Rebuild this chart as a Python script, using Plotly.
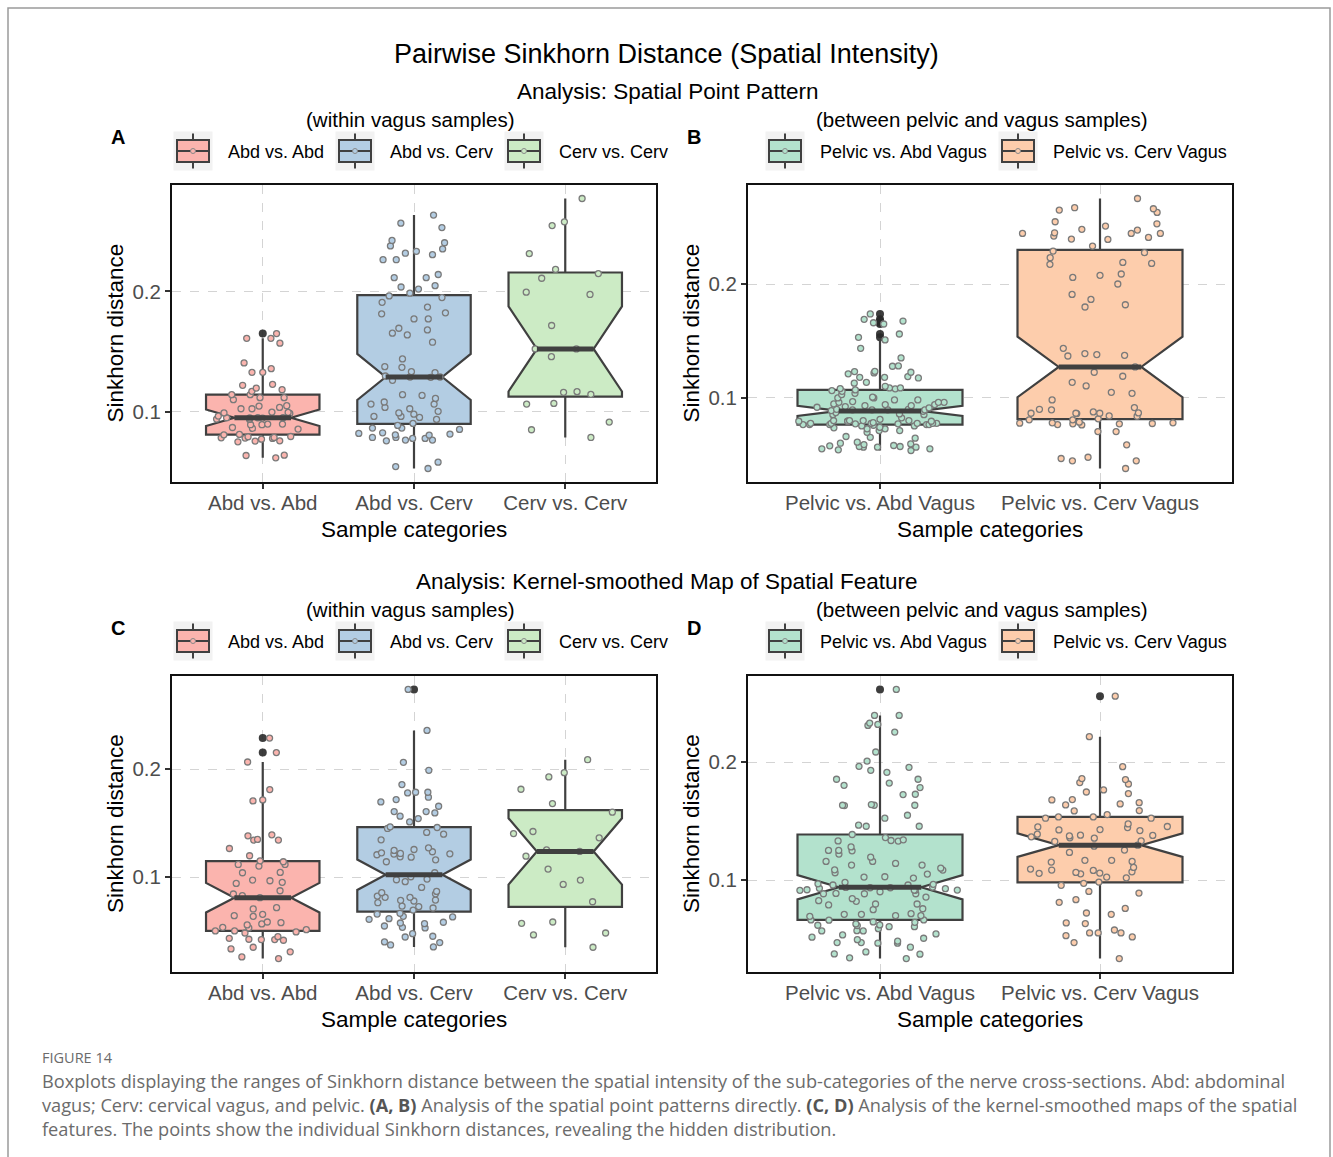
import numpy as np
import plotly.graph_objects as go

W, H = 1333, 1157

# ---------------- data: pairwise Sinkhorn distances ----------------
cats_within = ["Abd vs. Abd", "Abd vs. Cerv", "Cerv vs. Cerv"]
cats_between = ["Pelvic vs. Abd Vagus", "Pelvic vs. Cerv Vagus"]

# Spatial point pattern, within vagus samples
spp_abd_abd = [0.165, 0.161, 0.161, 0.157, 0.1406, 0.1328, 0.1328, 0.1358, 0.1228, 0.122,
               0.117, 0.1197, 0.1183, 0.1142, 0.1142, 0.1117, 0.1117, 0.110, 0.1036, 0.1025,
               0.105, 0.1047, 0.1025, 0.0997, 0.0986, 0.0994, 0.099, 0.0939, 0.095, 0.095,
               0.0947, 0.095, 0.0948, 0.0936, 0.0964, 0.0892, 0.0856, 0.0869, 0.0897, 0.0861,
               0.0897, 0.0892, 0.0808, 0.0811, 0.0778, 0.0792, 0.075, 0.0781, 0.0758, 0.0783,
               0.0756, 0.0794, 0.0786, 0.0772, 0.0636, 0.0617, 0.0639]
spp_abd_cerv = [0.2635, 0.2568, 0.2531, 0.2424, 0.2405, 0.2379, 0.2354, 0.2334, 0.2306, 0.2318,
                0.2264, 0.2264, 0.2141, 0.2115, 0.2115, 0.2048, 0.202, 0.2037, 0.1986, 0.1963,
                0.1949, 0.191, 0.187, 0.1822, 0.1814, 0.1772, 0.1772, 0.1694, 0.168, 0.1653,
                0.1639, 0.1578, 0.1439, 0.1375, 0.1369, 0.1333, 0.1325, 0.1297, 0.1289, 0.1286,
                0.1289, 0.1261, 0.1142, 0.1111, 0.1136, 0.1081, 0.1064, 0.1064, 0.1036, 0.1025,
                0.1003, 0.098, 0.099, 0.0961, 0.0961, 0.0953, 0.0936, 0.0903, 0.0886, 0.0864,
                0.0864, 0.0853, 0.0825, 0.082, 0.0814, 0.0806, 0.0808, 0.0786, 0.0786, 0.0778,
                0.0778, 0.0764, 0.0764, 0.0758, 0.0581, 0.0544, 0.0528]
spp_cerv_cerv = [0.2773, 0.2579, 0.2548, 0.2315, 0.2183, 0.2149, 0.211, 0.1994, 0.1975, 0.1717,
                 0.1522, 0.1522, 0.1458, 0.1167, 0.1144, 0.1161, 0.1064, 0.1069, 0.0914, 0.085,
                 0.0786]

# Spatial point pattern, between pelvic and vagus samples
spp_pelvic_abd = [0.1737, 0.169, 0.1675, 0.166, 0.1649, 0.1561, 0.1532, 0.1509, 0.1435, 0.1351,
                  0.1281, 0.1278, 0.1231, 0.1233, 0.1211, 0.1225, 0.1219, 0.1181, 0.1175, 0.1181,
                  0.1187, 0.1137, 0.1129, 0.1102, 0.1088, 0.1088, 0.1082, 0.1064, 0.107, 0.1058,
                  0.108, 0.1029, 0.0982, 0.1, 0.104, 0.1, 0.0982, 0.1006, 0.0968, 0.0924,
                  0.0947, 0.0932, 0.0941, 0.0961, 0.0918, 0.0961, 0.0941, 0.0932, 0.0961, 0.0895,
                  0.09, 0.0882, 0.0871, 0.0895, 0.09, 0.0895, 0.0912, 0.0889, 0.0895, 0.0853,
                  0.0859, 0.0853, 0.0825, 0.0766, 0.0795, 0.0777, 0.0801, 0.0742, 0.076, 0.0766,
                  0.0801, 0.0777, 0.0754, 0.0783, 0.0812, 0.0777, 0.0795, 0.0801, 0.0777, 0.0766,
                  0.0737, 0.0795, 0.0772, 0.0801, 0.0766, 0.0777, 0.0754, 0.0772, 0.0777, 0.0795,
                  0.0766, 0.0698, 0.0728, 0.0713, 0.0713, 0.0728, 0.0646, 0.0661, 0.0654, 0.0582,
                  0.0567, 0.0579, 0.0567, 0.0602, 0.0573, 0.0567, 0.0596, 0.059, 0.0573, 0.0553,
                  0.0544, 0.0538, 0.0553, 0.0611]
spp_pelvic_cerv = [0.2751, 0.267, 0.2649, 0.2661, 0.2629, 0.2547, 0.2509, 0.2529, 0.2474, 0.2444,
                   0.2444, 0.2444, 0.248, 0.245, 0.2421, 0.2392, 0.2409, 0.2395, 0.2333, 0.2289,
                   0.2275, 0.2231, 0.2181, 0.2173, 0.219, 0.2088, 0.2058, 0.2076, 0.2, 0.1909,
                   0.1818, 0.1798, 0.1865, 0.1368, 0.1435, 0.138, 0.1374, 0.1389, 0.1272, 0.1225,
                   0.1137, 0.119, 0.1105, 0.1049, 0.104, 0.0982, 0.0865, 0.0877, 0.0865, 0.0842,
                   0.09, 0.0865, 0.0839, 0.0895, 0.0868, 0.0862, 0.0915, 0.0781, 0.0816, 0.0772,
                   0.0807, 0.0766, 0.0778, 0.0787, 0.0763, 0.0775, 0.0807, 0.0772, 0.0781, 0.0704,
                   0.0704, 0.0588, 0.0468, 0.0447, 0.0479, 0.0447, 0.038]

# Kernel-smoothed map, within vagus samples
ksm_abd_abd = [0.229, 0.2155, 0.2068, 0.1812, 0.1707, 0.1716, 0.1383, 0.1392, 0.1343, 0.1343,
               0.1349, 0.1265, 0.1198, 0.1151, 0.1142, 0.1117, 0.1102, 0.1117, 0.104, 0.1043,
               0.0966, 0.0951, 0.0972, 0.0941, 0.0873, 0.0843, 0.0827, 0.0809, 0.0704, 0.0716,
               0.0642, 0.0654, 0.0636, 0.0565, 0.0583, 0.0577, 0.0556, 0.0534, 0.0512, 0.0481,
               0.05, 0.0528, 0.0491, 0.05, 0.042, 0.0432, 0.0414, 0.0423, 0.0447, 0.042,
               0.0333, 0.0349, 0.0306, 0.0259, 0.0244]
ksm_abd_cerv = [0.2741, 0.2361, 0.2065, 0.1991, 0.1858, 0.1787, 0.1781, 0.1787, 0.1719, 0.1741,
                0.1697, 0.1657, 0.1608, 0.1608, 0.1595, 0.1565, 0.1543, 0.1512, 0.146, 0.1451,
                0.1466, 0.1414, 0.1398, 0.1346, 0.1256, 0.1271, 0.1219, 0.1235, 0.1213, 0.1225,
                0.1247, 0.1216, 0.1188, 0.1207, 0.1185, 0.116, 0.1142, 0.0975, 0.1003, 0.0981,
                0.0957, 0.104, 0.0904, 0.0855, 0.0812, 0.0784, 0.0824, 0.0867, 0.0778, 0.0812,
                0.0787, 0.0845, 0.0762, 0.0694, 0.0725, 0.0713, 0.0731, 0.063, 0.0657, 0.0636,
                0.0664, 0.0614, 0.0528, 0.0574, 0.0546, 0.0608, 0.0534, 0.0581, 0.0568, 0.0451,
                0.0444, 0.0475, 0.0398, 0.037, 0.0352, 0.0392]
ksm_cerv_cerv = [0.2089, 0.1969, 0.1929, 0.1815, 0.1682, 0.1602, 0.1423, 0.1404, 0.1364, 0.1253,
                 0.1238, 0.1194, 0.1074, 0.0972, 0.0932, 0.0771, 0.0571, 0.0583, 0.0463, 0.0481,
                 0.0349]

# Kernel-smoothed map, between pelvic and vagus samples
ksm_pelvic_abd = [0.2615, 0.2395, 0.2395, 0.231, 0.233, 0.2319, 0.2254, 0.2085, 0.2008, 0.1964,
                  0.1955, 0.193, 0.1913, 0.1854, 0.1822, 0.1854, 0.1784, 0.1803, 0.1724, 0.1727,
                  0.1634, 0.1634, 0.1631, 0.164, 0.1634, 0.1549, 0.1524, 0.1456, 0.1465, 0.1456,
                  0.1386, 0.136, 0.133, 0.1332, 0.1341, 0.1335, 0.1281, 0.1248, 0.1251, 0.1251,
                  0.122, 0.1194, 0.1158, 0.1158, 0.1127, 0.1141, 0.1127, 0.1085, 0.1101, 0.1087,
                  0.1062, 0.1025, 0.1051, 0.1028, 0.1017, 0.0981, 0.0958, 0.0968, 0.0964, 0.0915,
                  0.0884, 0.0901, 0.0927, 0.0913, 0.0884, 0.0918, 0.0913, 0.0935, 0.0884, 0.0935,
                  0.0915, 0.0958, 0.0856, 0.0887, 0.0938, 0.094, 0.093, 0.082, 0.0842, 0.0825,
                  0.0797, 0.0797, 0.0789, 0.0757, 0.0749, 0.071, 0.0698, 0.0715, 0.0693, 0.071,
                  0.0698, 0.0662, 0.0642, 0.066, 0.0645, 0.0662, 0.0614, 0.062, 0.0605, 0.0617,
                  0.0628, 0.0605, 0.0571, 0.0569, 0.0588, 0.0569, 0.0544, 0.0535, 0.0495, 0.0516,
                  0.0507, 0.0465, 0.047, 0.047, 0.0482, 0.0465, 0.0431, 0.0374, 0.0391, 0.0372,
                  0.0341, 0.0335]
ksm_pelvic_cerv = [0.2558, 0.2215, 0.1961, 0.1826, 0.186, 0.1851, 0.1814, 0.1733, 0.1764, 0.1746,
                   0.1679, 0.1682, 0.1645, 0.1656, 0.1637, 0.1555, 0.1535, 0.1589, 0.1524, 0.1586,
                   0.1535, 0.1524, 0.1476, 0.1445, 0.1425, 0.1454, 0.1419, 0.145, 0.1428, 0.1389,
                   0.1366, 0.1355, 0.1378, 0.1374, 0.1358, 0.138, 0.1327, 0.1332, 0.1296, 0.1287,
                   0.1254, 0.1234, 0.1152, 0.1167, 0.1158, 0.1167, 0.1057, 0.1082, 0.1065, 0.1093,
                   0.1059, 0.1085, 0.1019, 0.1025, 0.107, 0.1053, 0.1107, 0.0983, 0.0955, 0.0972,
                   0.089, 0.0904, 0.0811, 0.0834, 0.0721, 0.076, 0.071, 0.0637, 0.0631, 0.0577,
                   0.0529, 0.0552, 0.0552, 0.0518, 0.0552, 0.047, 0.0335]

colors_within = ["#FBB4AE", "#B3CDE3", "#CCEBC5"]
colors_between = ["#B3E2CD", "#FDCDAC"]

# ---------------- styling constants ----------------
FONT = "Liberation Sans, Arial, sans-serif"
BOX_LINE = "#404040"
PT_EDGE = "#7a7a7a"
BOX_W = 0.75
NOTCH = 0.25          # plotly notch indentation -> waist at half the box width


def px(x):
    return x / W


def py(y):
    return 1 - y / H


panels = [
    dict(letter="A", cats=cats_within, colors=colors_within,
         data=[spp_abd_abd, spp_abd_cerv, spp_cerv_cerv],
         left=172, right=656, top=185, bottom=482),
    dict(letter="B", cats=cats_between, colors=colors_between,
         data=[spp_pelvic_abd, spp_pelvic_cerv],
         left=748, right=1232, top=185, bottom=482),
    dict(letter="C", cats=cats_within, colors=colors_within,
         data=[ksm_abd_abd, ksm_abd_cerv, ksm_cerv_cerv],
         left=172, right=656, top=676, bottom=972),
    dict(letter="D", cats=cats_between, colors=colors_between,
         data=[ksm_pelvic_abd, ksm_pelvic_cerv],
         left=748, right=1232, top=676, bottom=972),
]

fig = go.Figure()
layout = dict(
    width=W, height=H,
    margin=dict(l=0, r=0, t=0, b=0),
    paper_bgcolor="white", plot_bgcolor="white",
    showlegend=False, boxmode="overlay",
    font=dict(family=FONT, color="black"),
)
annotations = []
shapes = []

for k, p in enumerate(panels):
    sfx = "" if k == 0 else str(k + 1)
    xa, ya = "x" + sfx, "y" + sfx
    allv = np.concatenate([np.asarray(d, float) for d in p["data"]])
    lo, hi = allv.min(), allv.max()
    pad = 0.05 * (hi - lo)
    n = len(p["cats"])

    for i, (vals, col) in enumerate(zip(p["data"], p["colors"])):
        v = np.asarray(vals, float)
        xs = [i] * len(v)
        # outliers drawn as dark dots on the box centre
        fig.add_trace(go.Box(
            x=xs, y=v, xaxis=xa, yaxis=ya, width=BOX_W, notched=True, notchwidth=NOTCH,
            boxpoints="outliers", jitter=0, pointpos=0, whiskerwidth=0,
            fillcolor="rgba(0,0,0,0)", line=dict(color="rgba(0,0,0,0)", width=0),
            marker=dict(color="rgba(40,40,40,0.9)", size=8, line=dict(width=0)),
            hoverinfo="skip"))
        # notched box plus every jittered observation
        fig.add_trace(go.Box(
            x=xs, y=v, xaxis=xa, yaxis=ya, width=BOX_W, notched=True, notchwidth=NOTCH,
            boxpoints="all", jitter=1, pointpos=0, whiskerwidth=0,
            fillcolor=col, line=dict(color=BOX_LINE, width=2.2),
            marker=dict(color=col, size=6, line=dict(color=PT_EDGE, width=1.3)),
            name=p["cats"][i]))
        # heavier median bar across the notch waist
        med = float(np.median(v))
        half = BOX_W / 2 * 0.5
        fig.add_trace(go.Scatter(
            x=[i - half, i + half], y=[med, med], xaxis=xa, yaxis=ya, mode="lines",
            line=dict(color=BOX_LINE, width=5), hoverinfo="skip"))

    layout["xaxis" + sfx] = dict(
        domain=[px(p["left"]), px(p["right"])], anchor=ya,
        range=[-0.6, n - 0.4], tickvals=list(range(n)), ticktext=p["cats"],
        showgrid=True, gridcolor="#d4d4d4", griddash="dash", gridwidth=1,
        showline=True, mirror=True, linecolor="#111111", linewidth=2,
        ticks="outside", ticklen=5, tickwidth=1.5, tickcolor="#333333",
        ticklabelstandoff=-4,
        tickfont=dict(size=20.5, color="#4d4d4d", family=FONT), zeroline=False,
    )
    layout["yaxis" + sfx] = dict(
        domain=[py(p["bottom"]), py(p["top"])], anchor=xa,
        range=[lo - pad, hi + pad], tickvals=[0.1, 0.2], ticktext=["0.1", "0.2"],
        showgrid=True, gridcolor="#d4d4d4", griddash="dash", gridwidth=1,
        showline=True, mirror=True, linecolor="#111111", linewidth=2,
        ticks="outside", ticklen=5, tickwidth=1.5, tickcolor="#333333",
        tickfont=dict(size=20.5, color="#4d4d4d", family=FONT), zeroline=False,
    )

    cx = (p["left"] + p["right"]) / 2
    # axis titles
    annotations.append(dict(text="Sample categories", x=px(cx), y=py(p["bottom"] + 47),
                            xref="paper", yref="paper", showarrow=False,
                            font=dict(size=22.5, color="black"), xanchor="center", yanchor="middle"))
    annotations.append(dict(text="Sinkhorn distance", x=px(p["left"] - 57),
                            y=py((p["top"] + p["bottom"]) / 2),
                            xref="paper", yref="paper", showarrow=False, textangle=-90,
                            font=dict(size=22.5, color="black"), xanchor="center", yanchor="middle"))
    # panel tag
    annotations.append(dict(text="<b>%s</b>" % p["letter"], x=px(p["left"] - 54),
                            y=py(p["top"] - 48), xref="paper", yref="paper", showarrow=False,
                            font=dict(size=20, color="black"), xanchor="center", yanchor="middle"))

# ---------------- headings ----------------
def heading(text, x, y, size):
    annotations.append(dict(text=text, x=px(x), y=py(y), xref="paper", yref="paper",
                            showarrow=False, font=dict(size=size, color="black"),
                            xanchor="center", yanchor="middle"))


heading("Pairwise Sinkhorn Distance (Spatial Intensity)", 666, 54, 27)
heading("Analysis: Spatial Point Pattern", 667, 92, 22.5)
heading("(within vagus samples)", 410, 119, 20.5)
heading("(between pelvic and vagus samples)", 982, 119, 20.5)
heading("Analysis: Kernel-smoothed Map of Spatial Feature", 667, 581, 22.5)
heading("(within vagus samples)", 410, 609, 20.5)
heading("(between pelvic and vagus samples)", 982, 609, 20.5)

# ---------------- legends (boxplot keys) ----------------
def legend_key(cx, cy, fill):
    def rect(x0, y0, x1, y1, **kw):
        shapes.append(dict(type="rect", xref="paper", yref="paper",
                           x0=px(x0), x1=px(x1), y0=py(y1), y1=py(y0), **kw))

    def seg(x0, y0, x1, y1, width):
        shapes.append(dict(type="line", xref="paper", yref="paper",
                           x0=px(x0), x1=px(x1), y0=py(y0), y1=py(y1),
                           line=dict(color=BOX_LINE, width=width)))

    rect(cx - 19.5, cy - 19.5, cx + 19.5, cy + 19.5, fillcolor="#F2F2F2", line=dict(width=0))
    seg(cx, cy - 17.5, cx, cy + 17.5, 2)
    rect(cx - 16, cy - 11, cx + 16, cy + 11, fillcolor=fill, line=dict(color=BOX_LINE, width=2))
    seg(cx - 16, cy, cx + 16, cy, 2)
    shapes.append(dict(type="circle", xref="paper", yref="paper",
                       x0=px(cx - 2.5), x1=px(cx + 2.5), y0=py(cy + 2.5), y1=py(cy - 2.5),
                       fillcolor=fill, line=dict(color="#888888", width=1)))


legend_rows = [
    (cats_within, colors_within, [193, 355, 524], 151),
    (cats_between, colors_between, [785, 1018], 151),
    (cats_within, colors_within, [193, 355, 524], 641),
    (cats_between, colors_between, [785, 1018], 641),
]
for labels, cols, xs, cy in legend_rows:
    for lab, col, kx in zip(labels, cols, xs):
        legend_key(kx, cy, col)
        annotations.append(dict(text=lab, x=px(kx + 33), y=py(cy + 1), xref="paper", yref="paper",
                                showarrow=False, font=dict(size=18, color="black"),
                                xanchor="left", yanchor="middle"))

# ---------------- caption ----------------
CAP = "Open Sans, Lato, sans-serif"
annotations.append(dict(text="FIGURE 14", x=px(40), y=py(1057), xref="paper", yref="paper",
                        showarrow=False, xanchor="left", yanchor="middle",
                        font=dict(size=14.5, color="#6b6b6b", family=CAP)))
caption_lines = [
    "Boxplots displaying the ranges of Sinkhorn distance between the spatial intensity of the "
    "sub-categories of the nerve cross-sections. Abd: abdominal",
    "vagus; Cerv: cervical vagus, and pelvic. <b><span style='color:#555555'>(A, B)</span></b> "
    "Analysis of the spatial point patterns directly. "
    "<b><span style='color:#555555'>(C, D)</span></b> Analysis of the kernel-smoothed maps of the spatial",
    "features. The points show the individual Sinkhorn distances, revealing the hidden distribution.",
]
for j, line in enumerate(caption_lines):
    annotations.append(dict(text=line, x=px(40), y=py(1081 + 24 * j), xref="paper", yref="paper",
                            showarrow=False, xanchor="left", yanchor="middle",
                            font=dict(size=18.2, color="#6b6b6b", family=CAP)))

# outer frame around the figure
shapes.append(dict(type="rect", xref="paper", yref="paper", layer="below",
                   x0=px(8), x1=px(1330), y0=py(1180), y1=py(8),
                   line=dict(color="#9a9a9a", width=1.5), fillcolor="rgba(0,0,0,0)"))

layout["annotations"] = annotations
layout["shapes"] = shapes
fig.update_layout(**layout)
fig.write_html("out.html")
